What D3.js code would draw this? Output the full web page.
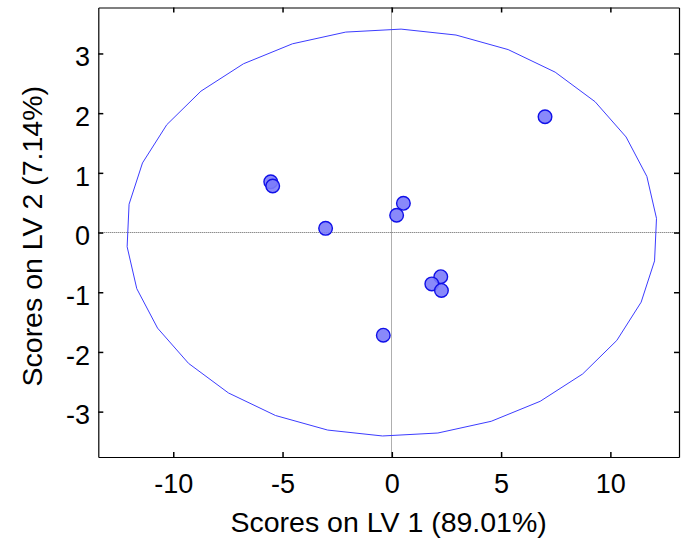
<!DOCTYPE html>
<html>
<head>
<meta charset="utf-8">
<script src="https://cdn.jsdelivr.net/npm/d3@7"></script>
<style>
  html, body { margin: 0; padding: 0; background: #fff; }
  svg { display: block; }
  text { font-family: "Liberation Sans", Arial, sans-serif; fill: #000; }
</style>
</head>
<body>
<svg id="chart" width="682" height="540"></svg>
<script>
// Sample scores on the first two latent variables
const lv1Scores = [-5.54, -5.45, -3.03, 0.53, 0.22, 2.24, 1.83, 2.27, -0.39, 7.01];
const lv2Scores = [0.85, 0.78, 0.07, 0.49, 0.29, -0.74, -0.86, -0.97, -1.72, 1.94];

// Axis ticks and titles
const xTicks = [-10, -5, 0, 5, 10];
const yTicks = [-3, -2, -1, 0, 1, 2, 3];
const xTitle = "Scores on LV 1 (89.01%)";
const yTitle = "Scores on LV 2 (7.14%)";

// 95% confidence ellipse semi-axes (LV1, LV2)
const ellipseRadii = [12.14, 3.41];

const svg = d3.select("#chart");
const L = 98.3, R = 679, T = 7.5, B = 457;

const x = d3.scaleLinear().domain([-13.43, 13.14]).range([L, R]);
const y = d3.scaleLinear().domain([-3.76, 3.77]).range([B, T]);

// zero reference lines, snapped to the pixel grid
const zx = Math.floor(x(0)) + 0.5, zy = Math.floor(y(0)) + 0.5;
const zero = svg.append("g")
  .attr("stroke", "#5e5e5e").attr("stroke-width", 1)
  .attr("stroke-dasharray", "1,1").attr("fill", "none");
zero.append("line").attr("x1", zx).attr("x2", zx).attr("y1", T).attr("y2", B);
zero.append("line").attr("x1", L).attr("x2", R).attr("y1", zy).attr("y2", zy);

// confidence ellipse (faceted polygon)
const ellipsePts = d3.range(0, 31).map(i => {
  const a = (4 + i * 12) * Math.PI / 180;
  return [ellipseRadii[0] * Math.cos(a), ellipseRadii[1] * Math.sin(a)];
});
svg.append("path")
  .attr("d", d3.line().x(d => x(d[0])).y(d => y(d[1]))(ellipsePts) + "Z")
  .attr("fill", "none").attr("stroke", "#3c3cff").attr("stroke-width", 1);

// axes with inward ticks on all four sides
const fontSize = 27;
const axBottom = svg.append("g").attr("transform", `translate(0,${B})`)
  .call(d3.axisBottom(x).tickValues(xTicks).tickFormat(d => String(d))
    .tickSizeInner(-5).tickSizeOuter(0).tickPadding(17));
const axLeft = svg.append("g").attr("transform", `translate(${L},0)`)
  .call(d3.axisLeft(y).tickValues(yTicks).tickFormat(d => String(d))
    .tickSizeInner(-5).tickSizeOuter(0).tickPadding(8.3));
const axTop = svg.append("g").attr("transform", `translate(0,${T})`)
  .call(d3.axisTop(x).tickValues(xTicks).tickFormat("")
    .tickSizeInner(-5).tickSizeOuter(0));
const axRight = svg.append("g").attr("transform", `translate(${R},0)`)
  .call(d3.axisRight(y).tickValues(yTicks).tickFormat("")
    .tickSizeInner(-5).tickSizeOuter(0));

[axBottom, axLeft, axTop, axRight].forEach(g => {
  g.select(".domain").attr("stroke", "#000").attr("stroke-width", 1.2);
  g.selectAll(".tick line").attr("stroke", "#000").attr("stroke-width", 1.5);
  g.selectAll("text")
    .attr("font-family", "'Liberation Sans', Arial, sans-serif")
    .attr("font-size", fontSize).attr("fill", "#000");
});
axLeft.selectAll(".tick text").attr("dy", "0.45em");

// axis titles
svg.append("text")
  .attr("x", (L + R) / 2).attr("y", 531.5)
  .attr("text-anchor", "middle").attr("font-size", 28.5)
  .text(xTitle);
svg.append("text")
  .attr("transform", `translate(41.7,${(T + B) / 2 + 4}) rotate(-90)`)
  .attr("text-anchor", "middle").attr("font-size", 28.5)
  .text(yTitle);

// score markers
const pts = lv1Scores.map((v, i) => [v, lv2Scores[i]]);
svg.append("g").selectAll("circle").data(pts).join("circle")
  .attr("cx", d => x(d[0])).attr("cy", d => y(d[1])).attr("r", 6.8)
  .attr("fill", "#7c7cfa").attr("fill-opacity", 0.9)
  .attr("stroke", "#1010e8").attr("stroke-width", 1.4);
</script>
</body>
</html>
